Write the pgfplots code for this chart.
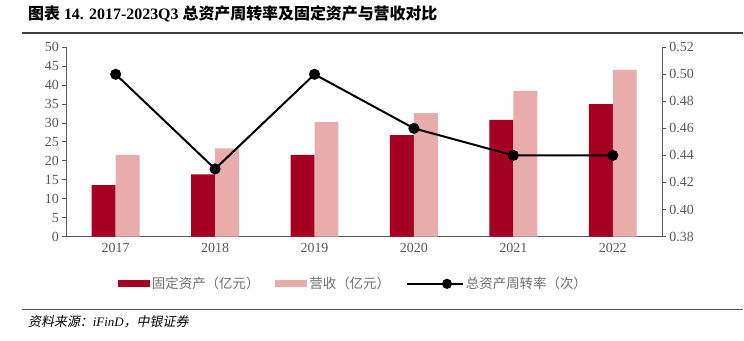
\documentclass[border=0pt]{standalone}
\usepackage{pgfplots}
\pgfplotsset{compat=1.18}
\usepackage{fontspec}
\setmainfont{Liberation Serif}
\newfontfamily\cjk{Noto Sans CJK SC}
\newfontfamily\cjkb{Noto Sans CJK SC Bold}
\newfontfamily\cjki[FakeSlant=0.2]{Noto Sans CJK SC}
\definecolor{darkred}{RGB}{165,0,33}
\definecolor{pinkbar}{RGB}{232,172,172}
\definecolor{axisgray}{RGB}{89,89,89}
\definecolor{leggray}{RGB}{110,110,110}
\begin{document}
\begin{tikzpicture}[x=1bp,y=1bp]
\path (0,0) rectangle (744,341);
\node[anchor=west, inner sep=0pt, font=\fontsize{16}{19}\selectfont\bfseries] at (28,327) {{\cjkb 图表} 14. 2017-2023Q3 {\cjkb 总资产周转率及固定资产与营收对比}};
\draw[line width=1.2bp, black!75] (22,308) -- (744,308);
\draw[line width=1bp, black!65] (22,31) -- (744,31);
\node[anchor=west, inner sep=0pt, font=\fontsize{13}{15}\selectfont] at (28,19) {{\cjki 资料来源：}\textit{iFinD}{\cjki ，中银证券}};
\begin{axis}[at={(66bp,104.3bp)}, anchor=south west, scale only axis,
  width=597bp, height=189.4bp,
  xmin=-0.5, xmax=5.5, ymin=0, ymax=50,
  ytick={0,5,10,15,20,25,30,35,40,45,50},
  xtick={0,1,2,3,4,5}, xticklabels={2017,2018,2019,2020,2021,2022},
  axis x line*=bottom, axis y line*=left,
  axis line style={axisgray, line width=0.8bp},
  major tick length=3.5bp, tick align=outside,
  y tick style={axisgray, line width=0.8bp},
  x tick style={draw=none},
  ticklabel style={font=\fontsize{14}{16}\selectfont, text=axisgray},
  /pgf/number format/assume math mode=true,
  ybar=0pt, bar width=24bp,
  legend style={at={(0.482,-0.25)}, anchor=center, draw=none, fill=none,
    legend columns=3, font=\cjk\fontsize{13.5}{15}\selectfont, text=leggray,
    /tikz/every even column/.append style={column sep=14bp}},
  legend cell align=left,
]
\addplot[fill=darkred, draw=none,
  legend image code/.code={\fill[darkred] (0bp,-3.5bp) rectangle (32bp,3.5bp);}]
  coordinates {(0,13.6) (1,16.4) (2,21.6) (3,26.8) (4,30.8) (5,35.0)};
\addlegendentry{固定资产（亿元）}
\addplot[fill=pinkbar, draw=none,
  legend image code/.code={\fill[pinkbar] (0bp,-3.5bp) rectangle (32bp,3.5bp);}]
  coordinates {(0,21.6) (1,23.3) (2,30.2) (3,32.6) (4,38.5) (5,44.0)};
\addlegendentry{营收（亿元）}
\addlegendimage{black,
  legend image code/.code={\draw[black, line width=2bp, mark=*, mark size=4bp, mark repeat=2, mark phase=2] plot coordinates {(0bp,0bp) (16bp,0bp) (32bp,0bp)};}}
\addlegendentry{总资产周转率（次）}
\end{axis}
\begin{axis}[at={(66bp,104.3bp)}, anchor=south west, scale only axis,
  width=597bp, height=189.4bp,
  xmin=-0.5, xmax=5.5, ymin=0.38, ymax=0.52,
  ytick={0.38,0.40,0.42,0.44,0.46,0.48,0.50,0.52},
  axis x line=none, axis y line*=right,
  axis line style={axisgray, line width=0.8bp},
  major tick length=3.5bp, tick align=outside,
  y tick style={axisgray, line width=0.8bp},
  ticklabel style={font=\fontsize{14}{16}\selectfont, text=axisgray},
  /pgf/number format/assume math mode=true,
  yticklabel style={/pgf/number format/.cd, fixed, fixed zerofill, precision=2},
]
\addplot[black, line width=2bp, mark=*, mark size=4.5bp]
  coordinates {(0,0.50) (1,0.43) (2,0.50) (3,0.46) (4,0.44) (5,0.44)};
\end{axis}
\end{tikzpicture}
\end{document}
